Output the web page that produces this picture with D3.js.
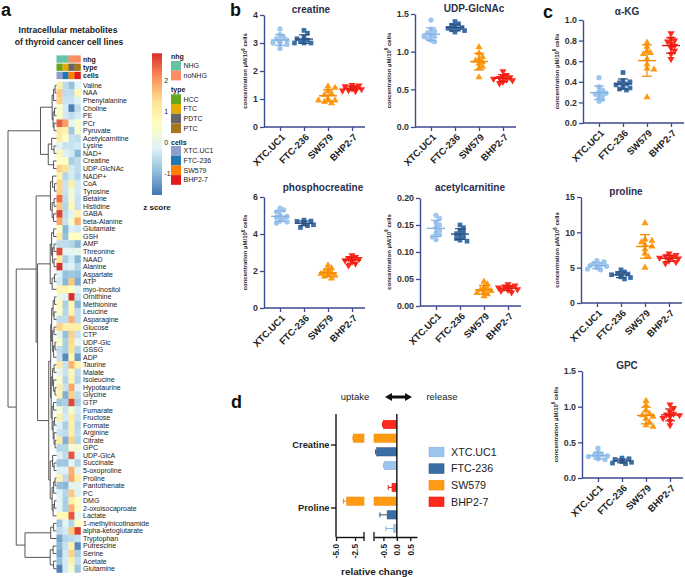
<!DOCTYPE html>
<html><head><meta charset="utf-8">
<script src="https://cdn.jsdelivr.net/npm/d3@7"></script>
<style>body{margin:0;background:#fff} svg{display:block;font-family:"Liberation Sans",Arial,sans-serif}</style>
</head><body><svg id="c" width="685" height="577"></svg>
<script>
// ---------------- DATA ----------------
const cellLines = ["XTC.UC1","FTC-236","SW579","BHP2-7"];
const nhgAnno = ["NHG","NHG","noNHG","noNHG"];
const typeAnno = ["HCC","FTC","PDTC","PTC"];
const nhgLevels = ["NHG","noNHG"];
const typeLevels = ["HCC","FTC","PDTC","PTC"];
const metabolites = ["Valine","NAA","Phenylalanine","Choline","PE","PCr","Pyruvate","Acetylcarnitine","Lysine","NAD+","Creatine","UDP-GlcNAc","NADP+","CoA","Tyrosine","Betaine","Histidine","GABA","beta-Alanine","Glutamate","GSH","AMP","Threonine","NAAD","Alanine","Aspartate","ATP","myo-inositol","Ornithine","Methionine","Leucine","Asparagine","Glucose","CTP","UDP-Glc","GSSG","ADP","Taurine","Malate","Isoleucine","Hypotaurine","Glycine","GTP","Fumarate","Fructose","Formate","Arginine","Citrate","GPC","UDP-GlcA","Succinate","5-oxoproline","Proline","Pantothenate","PC","DMG","2-oxoisocaproate","Lactate","1-methylnicotinamide","alpha-ketoglutarate","Tryptophan","Putrescine","Serine","Acetate","Glutamine"];
const zScores = [
[1.0,-0.5,-0.9,-0.1],[1.6,-0.5,-0.5,0.8],[1.5,-0.4,-0.4,-0.2],[0.5,-0.3,-1.6,-0.5],[0.6,-0.3,-0.5,-0.3],
[2.5,2.0,-0.1,0.4],[1.1,0.9,-0.8,0.4],[1.1,0.6,-0.4,-0.5],[-0.1,-0.4,-0.4,-0.3],[0.8,-0.2,-0.3,-1.0],
[0.6,0.6,-0.7,-0.5],[1.5,1.3,-0.3,-0.5],[0.9,-0.6,-0.3,-0.6],[1.5,-0.4,1.0,-0.3],[1.5,-0.4,0.3,-0.3],
[2.4,-0.5,0.4,-0.4],[1.6,-0.6,0.8,-0.4],[2.7,-0.5,-0.1,0.9],[1.9,-0.4,0.4,1.8],[0.5,-1.0,-0.2,-0.3],
[1.1,-0.9,0.6,0.6],[-0.5,-0.5,-0.6,-1.0],[2.7,-0.1,-0.1,0.0],[1.1,-0.7,-0.3,-1.0],[3.0,-0.3,-0.2,-0.6],
[-0.2,-0.9,-0.8,-0.9],[-0.3,-1.0,1.6,-1.1],[0.9,0.9,0.6,-0.1],[0.1,-0.1,3.1,-0.4],[0.8,-0.7,0.8,-1.0],
[0.5,-0.6,0.9,-0.5],[-0.5,-0.5,1.8,-0.5],[1.5,1.0,1.0,1.0],[0.0,-0.9,1.5,-0.4],[0.5,-0.7,1.4,0.0],
[-0.5,-0.7,1.3,-0.6],[-0.4,-1.5,0.8,-1.3],[1.1,-0.4,1.8,0.9],[0.0,-0.4,0.8,-0.5],[0.5,-0.6,0.9,-0.6],
[1.0,-0.4,1.9,-0.1],[0.9,-1.1,1.5,-0.5],[-0.8,-0.7,2.7,-0.7],[0.3,-0.4,0.4,-0.3],[1.0,-0.3,1.1,-0.4],
[-0.2,-0.7,1.0,-0.6],[-0.4,-0.5,1.0,-0.5],[1.1,-1.1,1.5,-0.6],[-0.6,-0.6,0.3,0.3],[-0.2,-0.5,2.6,-0.1],
[-0.8,-0.8,-0.1,-0.6],[-0.2,-0.2,1.8,-0.1],[0.9,-0.5,1.9,1.0],[-0.9,-1.0,-0.1,-0.1],[-0.2,-0.6,1.6,-0.2],
[-0.1,-0.7,1.0,0.6],[-0.1,-0.7,1.8,0.5],[0.8,0.8,2.6,0.0],[-0.8,-0.1,-0.6,0.6],[-0.5,-0.3,1.6,2.8],
[-1.2,-0.6,-0.5,-0.4],[-1.0,-0.4,0.9,-1.5],[-1.2,-0.3,1.5,-0.7],[-0.9,-0.3,1.0,-0.5],[-1.6,-0.3,0.4,-0.8]
];
const zLegendTicks = [2,1,0,-1];
const zRange = [-1.7, 2.9];
// dendrogram: [mergeHeight, left, right]; leaves are row indices
const dendroTree = [10,
  [3.3,
    [0.9,[0.6,[0.3,0,1],2],[0.7,[0.4,3,4],[0.5,5,6]]],
    [1.7,[1.0,7,[0.5,8,9]],[0.6,10,11]]],
  [8.3,
    [4.2,
      [1.25,[0.8,12,[0.4,13,14]],[0.9,[0.5,15,16],[0.6,17,18]]],
      [3.9,
        [1.3,[1.0,[0.6,19,20],[0.8,[0.5,21,22],[0.5,23,24]]],[0.9,[0.4,25,26],27]],
        [1.6,
          [1.2,[1.0,[0.7,[0.4,28,29],[0.5,30,31]],[0.8,[0.5,32,33],[0.6,[0.3,34,35],36]]],
               [1.1,[0.8,[0.5,37,38],[0.6,39,[0.3,40,41]]],[0.9,[0.6,42,43],[0.7,[0.4,44,45],[0.5,46,[0.3,47,48]]]]]],
          [1.3,[0.8,49,[0.5,50,51]],[0.9,[0.6,[0.3,52,53],54],[0.7,[0.4,55,56],57]]]]]],
    [6.5,[1.2,[0.6,58,59],60],[1.3,[0.7,61,62],[0.6,63,64]]]]];

// scatter data (µM/10^6 cells), per cell line
const creatineVals = [[3.5,3.3,3.2,3.15,3.1,3.05,3.0,3.0,2.95,2.8],[3.45,3.35,3.2,3.1,3.05,3.0,3.0,3.0,3.1,3.15],[1.45,1.4,1.3,1.2,1.15,1.0,0.95,0.9,0.95,0.85],[1.5,1.48,1.45,1.42,1.4,1.38,1.35,1.32,1.3,1.28]];
const udpGlcNAcVals = [[1.42,1.3,1.27,1.25,1.22,1.2,1.2,1.18,1.15,1.13],[1.4,1.37,1.35,1.33,1.32,1.31,1.3,1.29,1.28,1.26],[1.06,0.98,0.93,0.9,0.88,0.86,0.84,0.8,0.78,0.66],[0.74,0.69,0.67,0.66,0.65,0.64,0.63,0.62,0.6,0.58]];
const aKGVals = [[0.44,0.35,0.32,0.3,0.29,0.28,0.27,0.25,0.23,0.21],[0.49,0.41,0.4,0.39,0.38,0.37,0.35,0.34,0.33,0.32],[0.78,0.74,0.7,0.68,0.67,0.62,0.57,0.53,0.52,0.25],[0.87,0.82,0.8,0.79,0.77,0.75,0.73,0.7,0.67,0.62]];
const phosphocreatineVals = [[5.4,5.3,5.2,5.0,4.95,4.9,4.85,4.7,4.65,4.6],[4.75,4.7,4.68,4.65,4.6,4.58,4.55,4.5,4.45,4.35],[2.3,2.15,2.05,1.95,1.9,1.85,1.8,1.75,1.7,1.6],[2.85,2.75,2.7,2.65,2.6,2.58,2.55,2.5,2.4,2.3]];
const acetylcarnitineVals = [[0.168,0.162,0.155,0.15,0.145,0.14,0.135,0.132,0.128,0.123],[0.15,0.145,0.14,0.137,0.134,0.131,0.128,0.125,0.122,0.12],[0.045,0.04,0.035,0.032,0.03,0.028,0.026,0.024,0.022,0.018],[0.04,0.038,0.036,0.035,0.034,0.033,0.031,0.03,0.028,0.025]];
const prolineVals = [[6.0,5.8,5.6,5.4,5.3,5.2,5.1,5.0,4.8,4.7],[4.7,4.4,4.2,4.1,4.0,3.9,3.8,3.7,3.6,3.4],[11.3,9.0,8.8,8.6,8.2,8.0,7.6,7.0,6.5,5.0],[7.0,6.8,6.6,6.5,6.4,6.3,6.2,6.0,5.8,5.6]];
const gpcVals = [[0.42,0.36,0.33,0.32,0.31,0.3,0.29,0.28,0.27,0.26],[0.28,0.27,0.26,0.25,0.24,0.24,0.23,0.22,0.21,0.2],[1.08,1.02,0.95,0.9,0.88,0.86,0.83,0.78,0.74,0.72],[1.03,0.98,0.93,0.9,0.89,0.88,0.86,0.84,0.8,0.74]];

// panel d: relative change (per cell line)
const relCats = ["Creatine","Proline"];
const relCreatine = [-0.47,-0.75,-2.71,-0.51];
const relCreatineSD = [0.02,0.04,0.05,0.02];
const relProline = [-0.13,-0.36,-3.59,-0.18];
const relProlineSD = [0.28,0.27,0.44,0.14];
const relTicksLeft = [-5,-2.5];
const relTicksRight = [-0.5,0,0.5];

// ---------------- STYLE ----------------
const svg = d3.select("#c");
const cellColors = {"XTC.UC1":"#9dc6ef","FTC-236":"#3c6ea6","SW579":"#ff9a12","BHP2-7":"#ff2a1c"};
const cellStroke = {"XTC.UC1":"#86b3e2","FTC-236":"#2c4f7e","SW579":"#f08a00","BHP2-7":"#e21a10"};
const annoCellColors = {"XTC.UC1":"#8DA0CB","FTC-236":"#1F78B4","SW579":"#FF7F00","BHP2-7":"#E31A1C"};
const nhgColors = {"NHG":"#66C2A5","noNHG":"#FC8D62"};
const typeColors = {"HCC":"#66A61E","FTC":"#E6AB02","PDTC":"#666666","PTC":"#A6761D"};
const axisCol = "#3c4a90";

// panel letters
[["a",1,16],["b",230,16],["c",543,18],["d",231,408]].forEach(([t,x,y])=>
  svg.append("text").attr("x",x).attr("y",y).attr("font-size",18).attr("font-weight","bold").attr("fill","#111").text(t));

// ---------------- PANEL A: heatmap ----------------
const ga = svg.append("g");
ga.append("text").attr("x",68).attr("y",33).attr("text-anchor","middle").attr("font-size",8.6).attr("font-weight","bold").attr("fill","#222").text("Intracellular metabolites");
ga.append("text").attr("x",69).attr("y",45).attr("text-anchor","middle").attr("font-size",8.6).attr("font-weight","bold").attr("fill","#222").text("of thyroid cancer cell lines");

const xCol = d3.scaleBand().domain(cellLines).range([56.5,80.5]);
const yRow = d3.scaleBand().domain(metabolites).range([81.7,81.7+65*7.55]);
const rdylbu = ["#4575B4","#91BFDB","#E0F3F8","#FFFFBF","#FEE090","#FC8D59","#D73027"];
const zColor = d3.scaleLinear().domain(d3.range(7).map(i=>zRange[0]+i*(zRange[1]-zRange[0])/6)).range(rdylbu).clamp(true);

metabolites.forEach((m,i)=>{
  cellLines.forEach((c,j)=>{
    ga.append("rect").attr("x",xCol(c)).attr("y",yRow(m)).attr("width",xCol.bandwidth()+0.3).attr("height",yRow.bandwidth()+0.3).attr("fill",zColor(zScores[i][j]));
  });
  ga.append("text").attr("x",83).attr("y",yRow(m)+yRow.bandwidth()/2).attr("dy","0.35em").attr("font-size",7).attr("fill","#222").text(m);
});
// annotation rows
const annoRows = [["nhg",nhgAnno,nhgColors,55.4],["type",typeAnno,typeColors,63.6],["cells",cellLines,annoCellColors,71.8]];
annoRows.forEach(([name,vals,cols,y])=>{
  cellLines.forEach((c,j)=>ga.append("rect").attr("x",xCol(c)).attr("y",y).attr("width",xCol.bandwidth()+0.3).attr("height",7.3).attr("fill",cols[vals[j]]));
  ga.append("text").attr("x",83).attr("y",y+3.7).attr("dy","0.35em").attr("font-size",7).attr("font-weight","bold").attr("fill","#222").text(name);
});
// dendrogram
const hScale = d3.scaleLinear().domain([0,10]).range([56.5,8]);
function layoutNode(n){
  if(typeof n === "number") return {x:hScale(0), y:yRow(metabolites[n])+yRow.bandwidth()/2};
  const l = layoutNode(n[1]), r = layoutNode(n[2]);
  const x = hScale(n[0]);
  ga.append("path").attr("d",`M${l.x},${l.y}H${x}V${r.y}H${r.x}`).attr("fill","none").attr("stroke","#444").attr("stroke-width",0.9);
  return {x, y:(l.y+r.y)/2};
}
layoutNode(dendroTree);

// z-score colour bar
const defs = svg.append("defs");
const grad = defs.append("linearGradient").attr("id","zg").attr("x1",0).attr("y1",1).attr("x2",0).attr("y2",0);
rdylbu.forEach((c,i)=>grad.append("stop").attr("offset",i/6).attr("stop-color",c));
const zLeg = d3.scaleLinear().domain(zRange).range([195,53.3]);
ga.append("rect").attr("x",152).attr("y",zLeg(zRange[1])).attr("width",10).attr("height",zLeg(zRange[0])-zLeg(zRange[1])).attr("fill","url(#zg)");
zLegendTicks.forEach(t=>ga.append("text").attr("x",164.3).attr("y",zLeg(t)).attr("dy","0.35em").attr("font-size",7).attr("fill","#222").text(t));
ga.append("text").attr("x",157).attr("y",210).attr("text-anchor","middle").attr("font-size",8).attr("font-weight","bold").attr("fill","#222").text("z score");
// annotation legends
const annoLegends = [["nhg",nhgLevels,nhgColors,56.7,61],["type",typeLevels,typeColors,90,94.3],["cells",cellLines,annoCellColors,142.7,146]];
annoLegends.forEach(([title,levels,cols,ty,y0])=>{
  ga.append("text").attr("x",171).attr("y",ty).attr("dy","0.35em").attr("font-size",7).attr("font-weight","bold").attr("fill","#222").text(title);
  levels.forEach((lv,k)=>{
    ga.append("rect").attr("x",171).attr("y",y0+k*9.7).attr("width",10).attr("height",9.7).attr("fill",cols[lv]);
    ga.append("text").attr("x",183.5).attr("y",y0+k*9.7+4.85).attr("dy","0.35em").attr("font-size",7).attr("fill","#222").text(lv);
  });
});

// ---------------- PANELS B & C: scatter plots ----------------
const shapes = {"XTC.UC1":d3.symbolCircle,"FTC-236":d3.symbolSquare,"SW579":d3.symbolTriangle,"BHP2-7":d3.symbolTriangle};
function scatterPlot(cfg){
  const g = svg.append("g");
  const y = d3.scaleLinear().domain([0,cfg.max]).range([cfg.y0,cfg.yTop]);
  const x = d3.scalePoint().domain(cellLines).range([cfg.ax+16,cfg.ax+88]);
  // title
  g.append("text").attr("x",cfg.tx).attr("y",cfg.ty).attr("text-anchor","middle").attr("font-size",10).attr("font-weight","bold").attr("fill","#2b2e4e").text(cfg.title);
  // y axis
  const ya = g.append("g").attr("transform",`translate(${cfg.ax},0)`)
    .call(d3.axisLeft(y).tickValues(cfg.ticks).tickFormat(d3.format(cfg.fmt)).tickSize(4).tickSizeOuter(0).tickPadding(2));
  ya.select(".domain").attr("stroke",axisCol).attr("stroke-width",1.4);
  ya.selectAll(".tick line").attr("stroke",axisCol).attr("stroke-width",1.3);
  ya.selectAll(".tick text").attr("font-size",8.8).attr("font-weight","bold").attr("fill","#333").attr("font-family","Liberation Sans, Arial, sans-serif");
  let maxW = 0; ya.selectAll(".tick text").each(function(){maxW=Math.max(maxW,this.getBBox().width);});
  // x axis
  g.append("line").attr("x1",cfg.ax).attr("x2",cfg.ax+101).attr("y1",cfg.y0).attr("y2",cfg.y0).attr("stroke",axisCol).attr("stroke-width",1.4);
  const xa = g.append("g").attr("transform",`translate(0,${cfg.y0})`).call(d3.axisBottom(x).tickSize(4).tickSizeOuter(0));
  xa.select(".domain").remove();
  xa.selectAll(".tick line").attr("stroke",axisCol).attr("stroke-width",1.3);
  xa.selectAll(".tick text").attr("x",-4).attr("y",8).attr("dy","0.35em").attr("text-anchor","end").attr("transform","rotate(-45)")
    .attr("font-size",9.5).attr("font-weight","bold").attr("fill","#222").attr("font-family","Liberation Sans, Arial, sans-serif");
  // y label
  const ly = (cfg.y0+cfg.yTop)/2, lx = cfg.ax-maxW-12;
  const yl = g.append("text").attr("transform",`translate(${lx},${ly}) rotate(-90)`).attr("text-anchor","middle").attr("font-size",6).attr("font-weight","bold").attr("fill","#222");
  yl.append("tspan").text("concentration µM/10");
  yl.append("tspan").attr("font-size",4.5).attr("dy",-2.5).text("6");
  yl.append("tspan").attr("dy",2.5).text(" cells");
  // points
  cellLines.forEach((c,i)=>{
    const vals = cfg.data[i], cx = x(c);
    const placed = [];
    vals.forEach(v=>{
      const py = y(v); let px = cx;
      for(const o of [0,3.5,-3.5,7,-7,9.5,-9.5,2,-2]){
        if(placed.every(p=>Math.hypot(p[0]-(cx+o),p[1]-py)>=3.8)){px=cx+o;break;}
      }
      placed.push([px,py]);
      g.append("path").attr("d",d3.symbol(shapes[c], c==="XTC.UC1"?22:22)())
        .attr("transform",`translate(${px},${py})${c==="BHP2-7"?" rotate(180)":""}`)
        .attr("fill",cellColors[c]);
    });
    const m = d3.mean(vals), sd = d3.deviation(vals);
    const col = cellStroke[c];
    g.append("line").attr("x1",cx-9).attr("x2",cx+9).attr("y1",y(m)).attr("y2",y(m)).attr("stroke",col).attr("stroke-width",1.4);
    g.append("line").attr("x1",cx).attr("x2",cx).attr("y1",y(m-sd)).attr("y2",y(m+sd)).attr("stroke",col).attr("stroke-width",1.2);
    [m-sd,m+sd].forEach(v=>g.append("line").attr("x1",cx-5).attr("x2",cx+5).attr("y1",y(v)).attr("y2",y(v)).attr("stroke",col).attr("stroke-width",1.2));
  });
}
scatterPlot({title:"creatine",data:creatineVals,max:4,ticks:[0,1,2,3,4],fmt:"d",ax:264,yTop:15,y0:127,tx:311,ty:13});
scatterPlot({title:"UDP-GlcNAc",data:udpGlcNAcVals,max:1.5,ticks:[0,0.5,1,1.5],fmt:".1f",ax:415,yTop:14,y0:127,tx:474,ty:12});
scatterPlot({title:"α-KG",data:aKGVals,max:1.0,ticks:[0,0.2,0.4,0.6,0.8,1.0],fmt:".1f",ax:583,yTop:20,y0:123,tx:627,ty:15});
scatterPlot({title:"phosphocreatine",data:phosphocreatineVals,max:6,ticks:[0,2,4,6],fmt:"d",ax:264,yTop:197,y0:308,tx:323,ty:191});
scatterPlot({title:"acetylcarnitine",data:acetylcarnitineVals,max:0.2,ticks:[0,0.05,0.1,0.15,0.2],fmt:".2f",ax:420,yTop:198,y0:306,tx:470,ty:191});
scatterPlot({title:"proline",data:prolineVals,max:15,ticks:[0,5,10,15],fmt:"d",ax:581,yTop:197,y0:303,tx:626,ty:195});
scatterPlot({title:"GPC",data:gpcVals,max:1.5,ticks:[0,0.5,1,1.5],fmt:".1f",ax:582,yTop:371,y0:478,tx:627,ty:369});

// ---------------- PANEL D: relative change ----------------
const gd = svg.append("g");
const xL = d3.scaleLinear().domain([-5,-1.32]).range([336,364]);
const xR = d3.scaleLinear().domain([-0.85,0.75]).range([374,417]);
const yCat = d3.scalePoint().domain(relCats).range([445,508]);
const seriesOrder = ["BHP2-7","SW579","FTC-236","XTC.UC1"];
const yInner = d3.scaleBand().domain(seriesOrder).range([-27.4,27.4]).paddingInner(0.4).paddingOuter(0.2);
const axisTop = 414, axisBot = 537;
// header
gd.append("text").attr("x",355).attr("y",400).attr("text-anchor","middle").attr("font-size",9.5).attr("fill","#222").text("uptake");
gd.append("text").attr("x",442).attr("y",400).attr("text-anchor","middle").attr("font-size",9.5).attr("fill","#222").text("release");
gd.append("path").attr("d","M385,397 l7,-4 v2.6 h13 v-2.6 l7,4 l-7,4 v-2.6 h-13 v2.6 z").attr("fill","#111");
// bars
const relData = [relCreatine, relProline], relSD = [relCreatineSD, relProlineSD];
relCats.forEach((cat,ci)=>{
  cellLines.forEach((c,j)=>{
    const v = relData[ci][j], sd = relSD[ci][j];
    const yb = yCat(cat)+yInner(c), h = yInner.bandwidth();
    const rMin = xR.domain()[0];
    const fill = cellColors[c], stroke = cellStroke[c];
    const rStart = Math.max(v,rMin);
    gd.append("rect").attr("x",xR(rStart)).attr("y",yb).attr("width",xR(0)-xR(rStart)).attr("height",h).attr("fill",fill).attr("stroke",stroke).attr("stroke-width",0.6);
    let ex0, ex1;
    if(v < rMin){
      gd.append("rect").attr("x",xL(v)).attr("y",yb).attr("width",xL.range()[1]-xL(v)).attr("height",h).attr("fill",fill).attr("stroke",stroke).attr("stroke-width",0.6);
      ex0 = xL(v); ex1 = xL(v-sd);
    } else { ex0 = xR(v); ex1 = xR(v-sd); }
    const ym = yb+h/2;
    gd.append("line").attr("x1",ex0).attr("x2",ex1).attr("y1",ym).attr("y2",ym).attr("stroke",stroke).attr("stroke-width",1);
    gd.append("line").attr("x1",ex1).attr("x2",ex1).attr("y1",ym-2.5).attr("y2",ym+2.5).attr("stroke",stroke).attr("stroke-width",1);
  });
});
// zero line and y axis
gd.append("line").attr("x1",xR(0)).attr("x2",xR(0)).attr("y1",axisTop).attr("y2",axisBot).attr("stroke","#111").attr("stroke-width",1.4);
gd.append("line").attr("x1",336).attr("x2",336).attr("y1",axisTop).attr("y2",axisBot).attr("stroke","#111").attr("stroke-width",1.4);
relCats.forEach(cat=>{
  gd.append("line").attr("x1",331).attr("x2",336).attr("y1",yCat(cat)).attr("y2",yCat(cat)).attr("stroke","#111").attr("stroke-width",1.3);
  gd.append("text").attr("x",329.5).attr("y",yCat(cat)).attr("dy","0.35em").attr("text-anchor","end").attr("font-size",9.3).attr("font-weight","bold").attr("fill","#222").text(cat);
});
// broken x axis
[[xL,relTicksLeft],[xR,relTicksRight]].forEach(([sc,tk])=>{
  const a = gd.append("g").attr("transform",`translate(0,${axisBot})`).call(d3.axisBottom(sc).tickValues(tk).tickFormat(d3.format(".1f")).tickSize(4).tickSizeOuter(0));
  a.select(".domain").attr("stroke","#111").attr("stroke-width",1.4);
  a.selectAll(".tick line").attr("stroke","#111").attr("stroke-width",1.3);
  a.selectAll(".tick text").attr("transform","rotate(-90)").attr("x",-7).attr("y",0).attr("dy","0.35em").attr("text-anchor","end")
    .attr("font-size",8.3).attr("font-weight","bold").attr("fill","#222").attr("font-family","Liberation Sans, Arial, sans-serif")
    .text(d=>d3.format(".1f")(d).replace("−","-"));
});
[xL.range()[1], xR.range()[0]].forEach(xx=>gd.append("line").attr("x1",xx).attr("x2",xx).attr("y1",axisBot-5).attr("y2",axisBot+4).attr("stroke","#111").attr("stroke-width",1.3));
gd.append("text").attr("x",377).attr("y",575).attr("text-anchor","middle").attr("font-size",9.9).attr("font-weight","bold").attr("fill","#222").text("relative change");
// legend d
cellLines.forEach((c,k)=>{
  const yy = 452+k*16.6;
  gd.append("rect").attr("x",429).attr("y",yy-4.8).attr("width",15).attr("height",9.6).attr("fill",cellColors[c]).attr("stroke",cellStroke[c]).attr("stroke-width",0.6);
  gd.append("text").attr("x",451).attr("y",yy).attr("dy","0.35em").attr("font-size",10.7).attr("fill","#222").text(c);
});
</script></body></html>
